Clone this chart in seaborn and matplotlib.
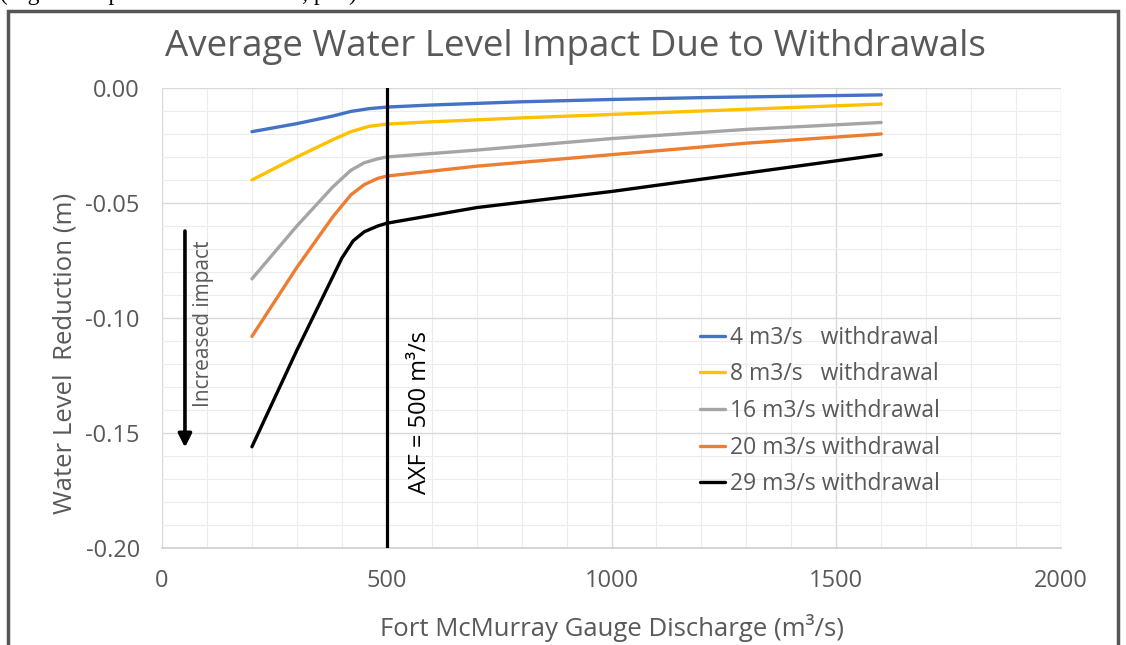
# Average water level impact due to withdrawals (recreated chart)
import numpy as np
import pandas as pd
import seaborn as sns
import matplotlib.pyplot as plt
from matplotlib.patches import Rectangle
from matplotlib.ticker import MultipleLocator

# data
discharge_4 = [200, 300, 380, 420, 460, 500, 600, 800, 1000, 1200, 1400, 1600]
impact_4 = [-0.019, -0.0155, -0.0122, -0.0102, -0.0090, -0.0083, -0.0074, -0.006, -0.005, -0.0042, -0.0036, -0.003]

discharge_8 = [200, 300, 380, 420, 460, 500, 600, 800, 1000, 1200, 1400, 1600]
impact_8 = [-0.040, -0.030, -0.0225, -0.0190, -0.0167, -0.0157, -0.0147, -0.013, -0.0115, -0.010, -0.0085, -0.007]

discharge_16 = [200, 300, 380, 420, 450, 480, 500, 700, 1000, 1300, 1600]
impact_16 = [-0.083, -0.060, -0.043, -0.0358, -0.0325, -0.0308, -0.0300, -0.027, -0.022, -0.018, -0.015]

discharge_20 = [200, 300, 380, 420, 450, 480, 500, 700, 1000, 1300, 1600]
impact_20 = [-0.108, -0.078, -0.056, -0.0465, -0.0420, -0.0393, -0.0383, -0.034, -0.029, -0.024, -0.020]

discharge_29 = [200, 300, 360, 400, 425, 450, 480, 500, 700, 1000, 1300, 1600]
impact_29 = [-0.156, -0.114, -0.090, -0.074, -0.0665, -0.0625, -0.0600, -0.0588, -0.052, -0.045, -0.037, -0.029]

series_labels = ["4 m3/s   withdrawal", "8 m3/s   withdrawal", "16 m3/s withdrawal",
                 "20 m3/s withdrawal", "29 m3/s withdrawal"]
series_colors = ["#4472C4", "#FFC000", "#A5A5A5", "#ED7D31", "#000000"]

y_ticks = [-0.20, -0.15, -0.10, -0.05, 0.00]
axf_discharge = 500

frames = []
for lab, xs, ys in zip(series_labels,
                       [discharge_4, discharge_8, discharge_16, discharge_20, discharge_29],
                       [impact_4, impact_8, impact_16, impact_20, impact_29]):
    frames.append(pd.DataFrame({"discharge": xs, "impact": ys, "series": lab}))
df = pd.concat(frames, ignore_index=True)

sns.set_theme(style="white")
plt.rcParams['font.family'] = ['Open Sans', 'DejaVu Sans']
txt_color = "#595959"

fig = plt.figure(figsize=(11.26, 6.45), dpi=100)
ax = fig.add_axes([0.1439, 0.1504, 0.7984, 0.7132])

sns.lineplot(data=df, x="discharge", y="impact", hue="series", hue_order=series_labels,
             palette=series_colors, linewidth=2.4, ax=ax, sort=False)
for ln in ax.lines:
    ln.set_solid_joinstyle("round")

ax.set_xlim(0, 2000)
ax.set_ylim(-0.2, 0.0)
ax.xaxis.set_major_locator(MultipleLocator(500))
ax.xaxis.set_minor_locator(MultipleLocator(100))
ax.yaxis.set_minor_locator(MultipleLocator(0.01))
ax.grid(which="major", color="#d9d9d9", linewidth=1.0)
ax.grid(which="minor", color="#ececec", linewidth=0.8)
ax.set_axisbelow(True)
for s in ax.spines.values():
    s.set_visible(False)
ax.spines["bottom"].set_visible(True)
ax.spines["bottom"].set_color("#d0d0d0")
ax.tick_params(which="both", length=0, labelsize=17, colors=txt_color)
ax.tick_params(axis="y", pad=16)
ax.tick_params(axis="x", pad=15)
ax.set_yticks(y_ticks)
ax.set_yticklabels([f"{v:.2f}" for v in y_ticks])
ax.set_xlabel("Fort McMurray Gauge Discharge (m³/s)", fontsize=18.5, color=txt_color, labelpad=15)
ax.set_ylabel("Water Level  Reduction (m)", fontsize=18.5, color=txt_color)
ax.yaxis.set_label_coords(-0.094, 0.424)

# AXF line
ax.axvline(axf_discharge, color="black", linewidth=2.3, zorder=5)
ax.text(573, -0.141, "AXF = 500 m³/s", rotation=90, ha="center", va="center",
        fontsize=17, color="black")

# increased impact arrow
ax.annotate("", xy=(51, -0.1575), xytext=(51, -0.061),
            arrowprops=dict(arrowstyle="-|>", color="black", lw=2.6, mutation_scale=20))
ax.text(92, -0.1026, "Increased impact", rotation=90, ha="center", va="center",
        fontsize=15, color=txt_color)

leg = ax.legend(loc="upper left", bbox_to_anchor=(0.576, 0.528), frameon=False,
                fontsize=16.5, handlelength=1.05, handletextpad=0.25, labelspacing=0.55)
for t in leg.get_texts():
    t.set_color(txt_color)

fig.text(0.511, 0.927, "Average Water Level Impact Due to Withdrawals", ha="center",
         va="center", fontsize=26.5, color=txt_color)

# clipped caption line and outer frame
fig.text(0.0, 1.008, "(Figure adapted from AEP 2015, p. 3)", ha="left", va="center",
         fontsize=17, family="Liberation Serif", color="black")
fig.patches.append(Rectangle((8 / 1126, -0.05), 1110 / 1126, 1.033, transform=fig.transFigure,
                             fill=False, edgecolor="#555555", linewidth=2.5))

fig.savefig("out.png", dpi=100)
